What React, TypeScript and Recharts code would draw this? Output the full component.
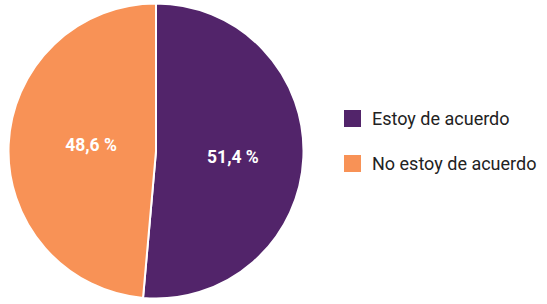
import { PieChart, Pie, Cell } from 'recharts'

const categories = ['Estoy de acuerdo', 'No estoy de acuerdo']
const shares = [51.4, 48.6]
const colors = ['#52246a', '#f89256']

const data = categories.map((name, i) => ({ name, value: shares[i] }))

const RAD = Math.PI / 180

// labels sit near half radius, a little rotated clockwise like the source
function SliceLabel(props: any) {
  const { cx, cy, midAngle, outerRadius, value } = props
  const r = outerRadius * 0.483
  const a = (midAngle - 2.7) * RAD
  const x = cx + r * Math.cos(-a) + 6
  const y = cy + r * Math.sin(-a)
  return (
    <text
      x={x}
      y={y}
      fill="#ffffff"
      textAnchor="middle"
      dominantBaseline="central"
      fontSize={17.5}
      fontWeight={700}
      fontFamily="Roboto"
    >
      {value.toFixed(1).replace('.', ',')} %
    </text>
  )
}

function LegendBox() {
  return (
    <div
      style={{
        position: 'absolute',
        left: 344,
        top: 96,
        fontFamily: 'Roboto',
        fontSize: 18,
        color: '#222',
      }}
    >
      {categories.map((c, i) => (
        <div key={c} style={{ display: 'flex', alignItems: 'center', height: 45 }}>
          <span
            style={{
              width: 17,
              height: 17,
              background: colors[i],
              display: 'inline-block',
              marginRight: 11,
            }}
          />
          {c}
        </div>
      ))}
    </div>
  )
}

export default function App() {
  return (
    <div style={{ position: 'absolute', left: 0, top: 0, width: 547, height: 304, background: '#fff' }}>
      <PieChart width={547} height={304} margin={{ top: 0, right: 0, bottom: 0, left: 0 }}>
        <Pie
          data={data}
          dataKey="value"
          cx={156}
          cy={151}
          outerRadius={147.5}
          startAngle={90}
          endAngle={-270}
          stroke="#ffffff"
          strokeWidth={2}
          label={SliceLabel}
          labelLine={false}
          isAnimationActive={false}
        >
          {data.map((d, i) => (
            <Cell key={d.name} fill={colors[i]} />
          ))}
        </Pie>
      </PieChart>
      <LegendBox />
    </div>
  )
}
